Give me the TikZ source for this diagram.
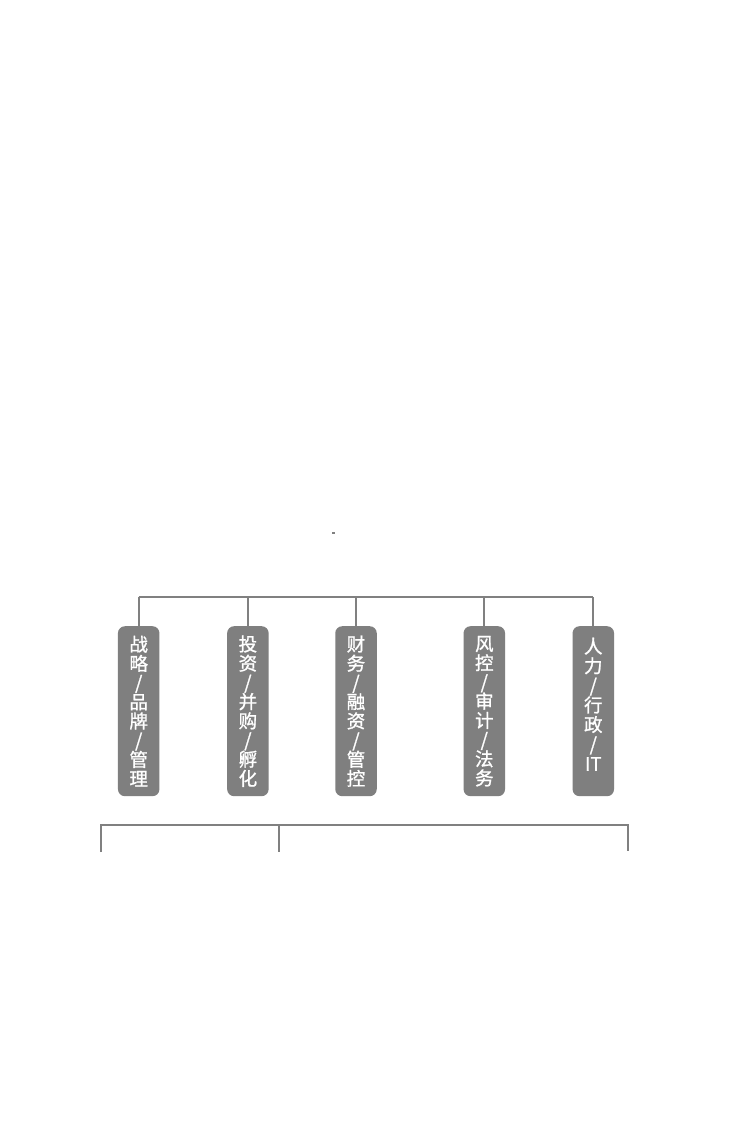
\documentclass[tikz,border=0pt]{standalone}
\usepackage{fontspec}
\newfontfamily\cjk[FakeBold=1.2]{Noto Sans CJK SC}
\definecolor{boxgrey}{HTML}{7F7F7F}
\definecolor{linegrey}{HTML}{808080}
\begin{document}
\begin{tikzpicture}[x=1pt,y=-1pt,
  depttext/.style={text=white, font=\cjk\fontsize{18.5}{19.2}\selectfont, align=center, text width=30pt, inner sep=0pt},
  dept/.style={fill=boxgrey, rounded corners=7pt, minimum width=41.5pt, minimum height=170pt, inner sep=0pt, anchor=north, depttext},
  conn/.style={draw=linegrey, line width=2pt}]
\useasboundingbox (0,0) rectangle (730,1128);
\fill[white] (0,0) rectangle (730,1128);
% top bracket
\coordinate (tl) at (138.7,597.3);
\coordinate (tr) at (593.3,597.3);
\node[dept] (b1) at (138.7,626) {战\\略\\/\\品\\牌\\/\\管\\理};
\node[dept] (b2) at (247.9,626) {投\\资\\/\\并\\购\\/\\孵\\化};
\node[dept] (b3) at (356.0,626) {财\\务\\/\\融\\资\\/\\管\\控};
\node[dept] (b4) at (484.3,626) {风\\控\\/\\审\\计\\/\\法\\务};
\node[dept] (b5) at (593.3,626) {};
\node[depttext, font=\cjk\fontsize{18.5}{19.6}\selectfont] (b5t) at ([yshift=7pt]b5.center) {人\\力\\/\\行\\政\\/\\IT};
\draw[conn] (tl) -- (tr);
\foreach \b in {b1,b2,b3,b4,b5}{
  \draw[conn] (\b.north |- tl) -- (\b.north);
}
% bottom bracket
\coordinate (bl) at (100.7,825);
\coordinate (bm) at (279,825);
\coordinate (br) at (628.3,825);
\coordinate (bld) at (100.7,852);
\coordinate (bmd) at (279,852);
\coordinate (brd) at (628.3,851);
\draw[conn] (bld) -- (bl) -- (br) -- (brd);
\draw[conn] (bm) -- (bmd);
% tiny mark
\fill[linegrey] (332,532) rectangle (334.5,533.5);
\end{tikzpicture}
\end{document}
